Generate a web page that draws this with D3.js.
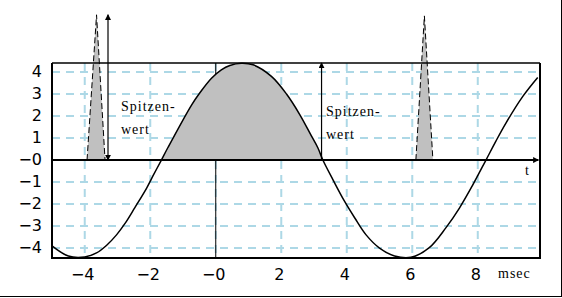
<!DOCTYPE html>
<html>
<head>
<meta charset="utf-8">
<script src="https://d3js.org/d3.v7.min.js"></script>
<style>
	body { margin: 0; background: #fff; }
	.tick-label { font-family: "DejaVu Sans", sans-serif; font-size: 16px; fill: #000; }
	.note { font-family: "Liberation Serif", "Times New Roman", serif; font-size: 14px; letter-spacing: 1px; fill: #000; }
	.grid line { stroke: #add8e6; stroke-width: 2; stroke-dasharray: 8,6; }
</style>
</head>
<body>
<svg width="562" height="298"></svg>
<script>
	// curve: [time in msec, value]
	var curveT = [-5.0, -4.5, -4.0, -3.64, -3.33, -3.03, -2.77, -2.47, -2.11, -1.91, -1.66, -1.46, -0.74, -0.49, -0.13, 0.17, 0.43, 0.78, 1.14, 1.70, 2.16, 2.56, 2.92, 3.12, 3.27, 3.58, 3.93, 4.24, 4.59, 5.0, 5.46, 5.96, 6.52, 7.03, 7.44, 7.84, 8.25, 8.55, 8.86, 9.37, 9.83];
	var curveV = [-3.9, -4.36, -4.4, -4.22, -3.87, -3.4, -2.88, -2.16, -1.27, -0.7, 0, 0.57, 2.5, 3.05, 3.72, 4.1, 4.3, 4.4, 4.33, 3.8, 3.0, 2.08, 1.1, 0.55, 0, -0.9, -1.87, -2.62, -3.4, -4.0, -4.36, -4.42, -3.98, -3.07, -2.18, -1.15, 0, 0.85, 1.68, 2.88, 3.75];

	// shaded half wave between the two zero crossings
	var halfWaveFrom = -1.66, halfWaveTo = 3.27;

	// spikes: [left base, peak time, right base, peak value]
	var spikes = [[-3.93, -3.64, -3.38, 6.6], [6.11, 6.37, 6.63, 6.55]];

	// "Spitzenwert" arrows: [time, from, to, both ends]
	var arrows = [[-3.29, 0, 6.6, true], [3.23, 0, 4.41, false]];

	var yTicks = [4, 3, 2, 1, 0, -1, -2, -3, -4];
	var yLabels = ["4", "3", "2", "1", "\u22120", "\u22121", "\u22122", "\u22123", "\u22124"];
	var xTicks = [-4, -2, 0, 2, 4, 6, 8];
	var xLabels = ["\u22124", "\u22122", "\u22120", "2", "4", "6", "8"];

	var svg = d3.select("svg");

	var x = d3.scaleLinear().domain([-5, 9.9]).range([52, 540]);
	var y = d3.scaleLinear().domain([-4.45, 4.41]).range([258, 63]);

	var pts = curveT.map(function (t, i) { return [t, curveV[i]]; });

	// arrow heads
	var defs = svg.append("defs");
	defs.append("marker").attr("id", "head")
		.attr("viewBox", "0 0 8 8").attr("refX", 7).attr("refY", 4)
		.attr("markerWidth", 6).attr("markerHeight", 6).attr("markerUnits", "userSpaceOnUse")
		.attr("orient", "auto-start-reverse")
		.append("path").attr("d", "M0,0L8,4L0,8Z").attr("fill", "#000");

	// grid
	var grid = svg.append("g").attr("class", "grid");
	grid.selectAll(".h").data(yTicks.filter(function (d) { return d !== 0; })).enter().append("line")
		.attr("x1", x(-5)).attr("x2", x(9.9))
		.attr("y1", function (d) { return y(d); }).attr("y2", function (d) { return y(d); });
	grid.selectAll(".v").data(xTicks).enter().append("line")
		.attr("x1", function (d) { return x(d); }).attr("x2", function (d) { return x(d); })
		.attr("y1", y(4.41)).attr("y2", y(-4.45));

	// vertical line at t = 0
	svg.append("line").attr("x1", x(0)).attr("x2", x(0)).attr("y1", y(4.41)).attr("y2", y(-4.45))
		.attr("stroke", "#000").attr("stroke-width", 1);

	// shaded half wave
	var area = d3.area().x(function (d) { return x(d[0]); }).y0(y(0)).y1(function (d) { return y(d[1]); })
		.curve(d3.curveCatmullRom);
	svg.append("path")
		.datum(pts.filter(function (d) { return d[0] >= halfWaveFrom && d[0] <= halfWaveTo; }))
		.attr("d", area).attr("fill", "#c0c0c0");

	// spikes
	var line = d3.line().x(function (d) { return x(d[0]); }).y(function (d) { return y(d[1]); });
	svg.selectAll(".spike").data(spikes).enter().append("path")
		.attr("d", function (d) { return line([[d[0], 0], [d[1], d[3]], [d[2], 0]]); })
		.attr("fill", "#c0c0c0").attr("stroke", "#000").attr("stroke-width", 1)
		.attr("stroke-dasharray", "6,3");

	// frame of the plot
	svg.append("line").attr("x1", x(-5)).attr("x2", x(9.9)).attr("y1", y(4.41)).attr("y2", y(4.41))
		.attr("stroke", "#000").attr("stroke-width", 1.5);
	svg.append("line").attr("x1", x(-5)).attr("x2", x(-5)).attr("y1", y(4.41)).attr("y2", y(-4.45) + 1)
		.attr("stroke", "#000").attr("stroke-width", 2);
	svg.append("line").attr("x1", x(9.9)).attr("x2", x(9.9)).attr("y1", y(4.41)).attr("y2", y(-4.45) + 1)
		.attr("stroke", "#000").attr("stroke-width", 2);
	svg.append("line").attr("x1", x(-5)).attr("x2", x(9.9)).attr("y1", y(-4.45)).attr("y2", y(-4.45))
		.attr("stroke", "#000").attr("stroke-width", 2);

	// zero axis with arrow
	svg.append("line").attr("x1", x(-5)).attr("x2", x(9.85)).attr("y1", y(0)).attr("y2", y(0))
		.attr("stroke", "#000").attr("stroke-width", 2).attr("marker-end", "url(#head)");

	// curve
	svg.append("path").datum(pts)
		.attr("d", line.curve(d3.curveCatmullRom))
		.attr("fill", "none").attr("stroke", "#000").attr("stroke-width", 1.5);

	// arrows
	svg.selectAll(".arrow").data(arrows).enter().append("line")
		.attr("x1", function (d) { return x(d[0]); }).attr("x2", function (d) { return x(d[0]); })
		.attr("y1", function (d) { return y(d[1]); }).attr("y2", function (d) { return y(d[2]); })
		.attr("stroke", "#000").attr("stroke-width", 1.2)
		.attr("marker-end", "url(#head)")
		.attr("marker-start", function (d) { return d[3] ? "url(#head)" : null; });

	// tick labels
	svg.selectAll(".yl").data(yTicks).enter().append("text")
		.attr("class", "tick-label").attr("text-anchor", "end")
		.attr("x", 42).attr("y", function (d) { return y(d) + 5; })
		.text(function (d, i) { return yLabels[i]; });
	svg.selectAll(".xl").data(xTicks).enter().append("text")
		.attr("class", "tick-label").attr("text-anchor", "middle")
		.attr("x", function (d) { return x(d) - 2; }).attr("y", 280)
		.text(function (d, i) { return xLabels[i]; });

	// notes
	svg.append("text").attr("class", "note").attr("x", 498).attr("y", 278).text("msec");
	svg.append("text").attr("class", "note").attr("x", 525).attr("y", 175).text("t");
	svg.append("text").attr("class", "note").attr("x", 121).attr("y", 111).text("Spitzen-");
	svg.append("text").attr("class", "note").attr("x", 121).attr("y", 134).text("wert");
	svg.append("text").attr("class", "note").attr("x", 326).attr("y", 116).text("Spitzen-");
	svg.append("text").attr("class", "note").attr("x", 326).attr("y", 139).text("wert");

	// outer border (right and bottom)
	svg.append("line").attr("x1", 561.5).attr("x2", 561.5).attr("y1", 0).attr("y2", 297)
		.attr("stroke", "#000").attr("stroke-width", 1);
	svg.append("line").attr("x1", 0).attr("x2", 562).attr("y1", 296.5).attr("y2", 296.5)
		.attr("stroke", "#000").attr("stroke-width", 1);
</script>
</body>
</html>
